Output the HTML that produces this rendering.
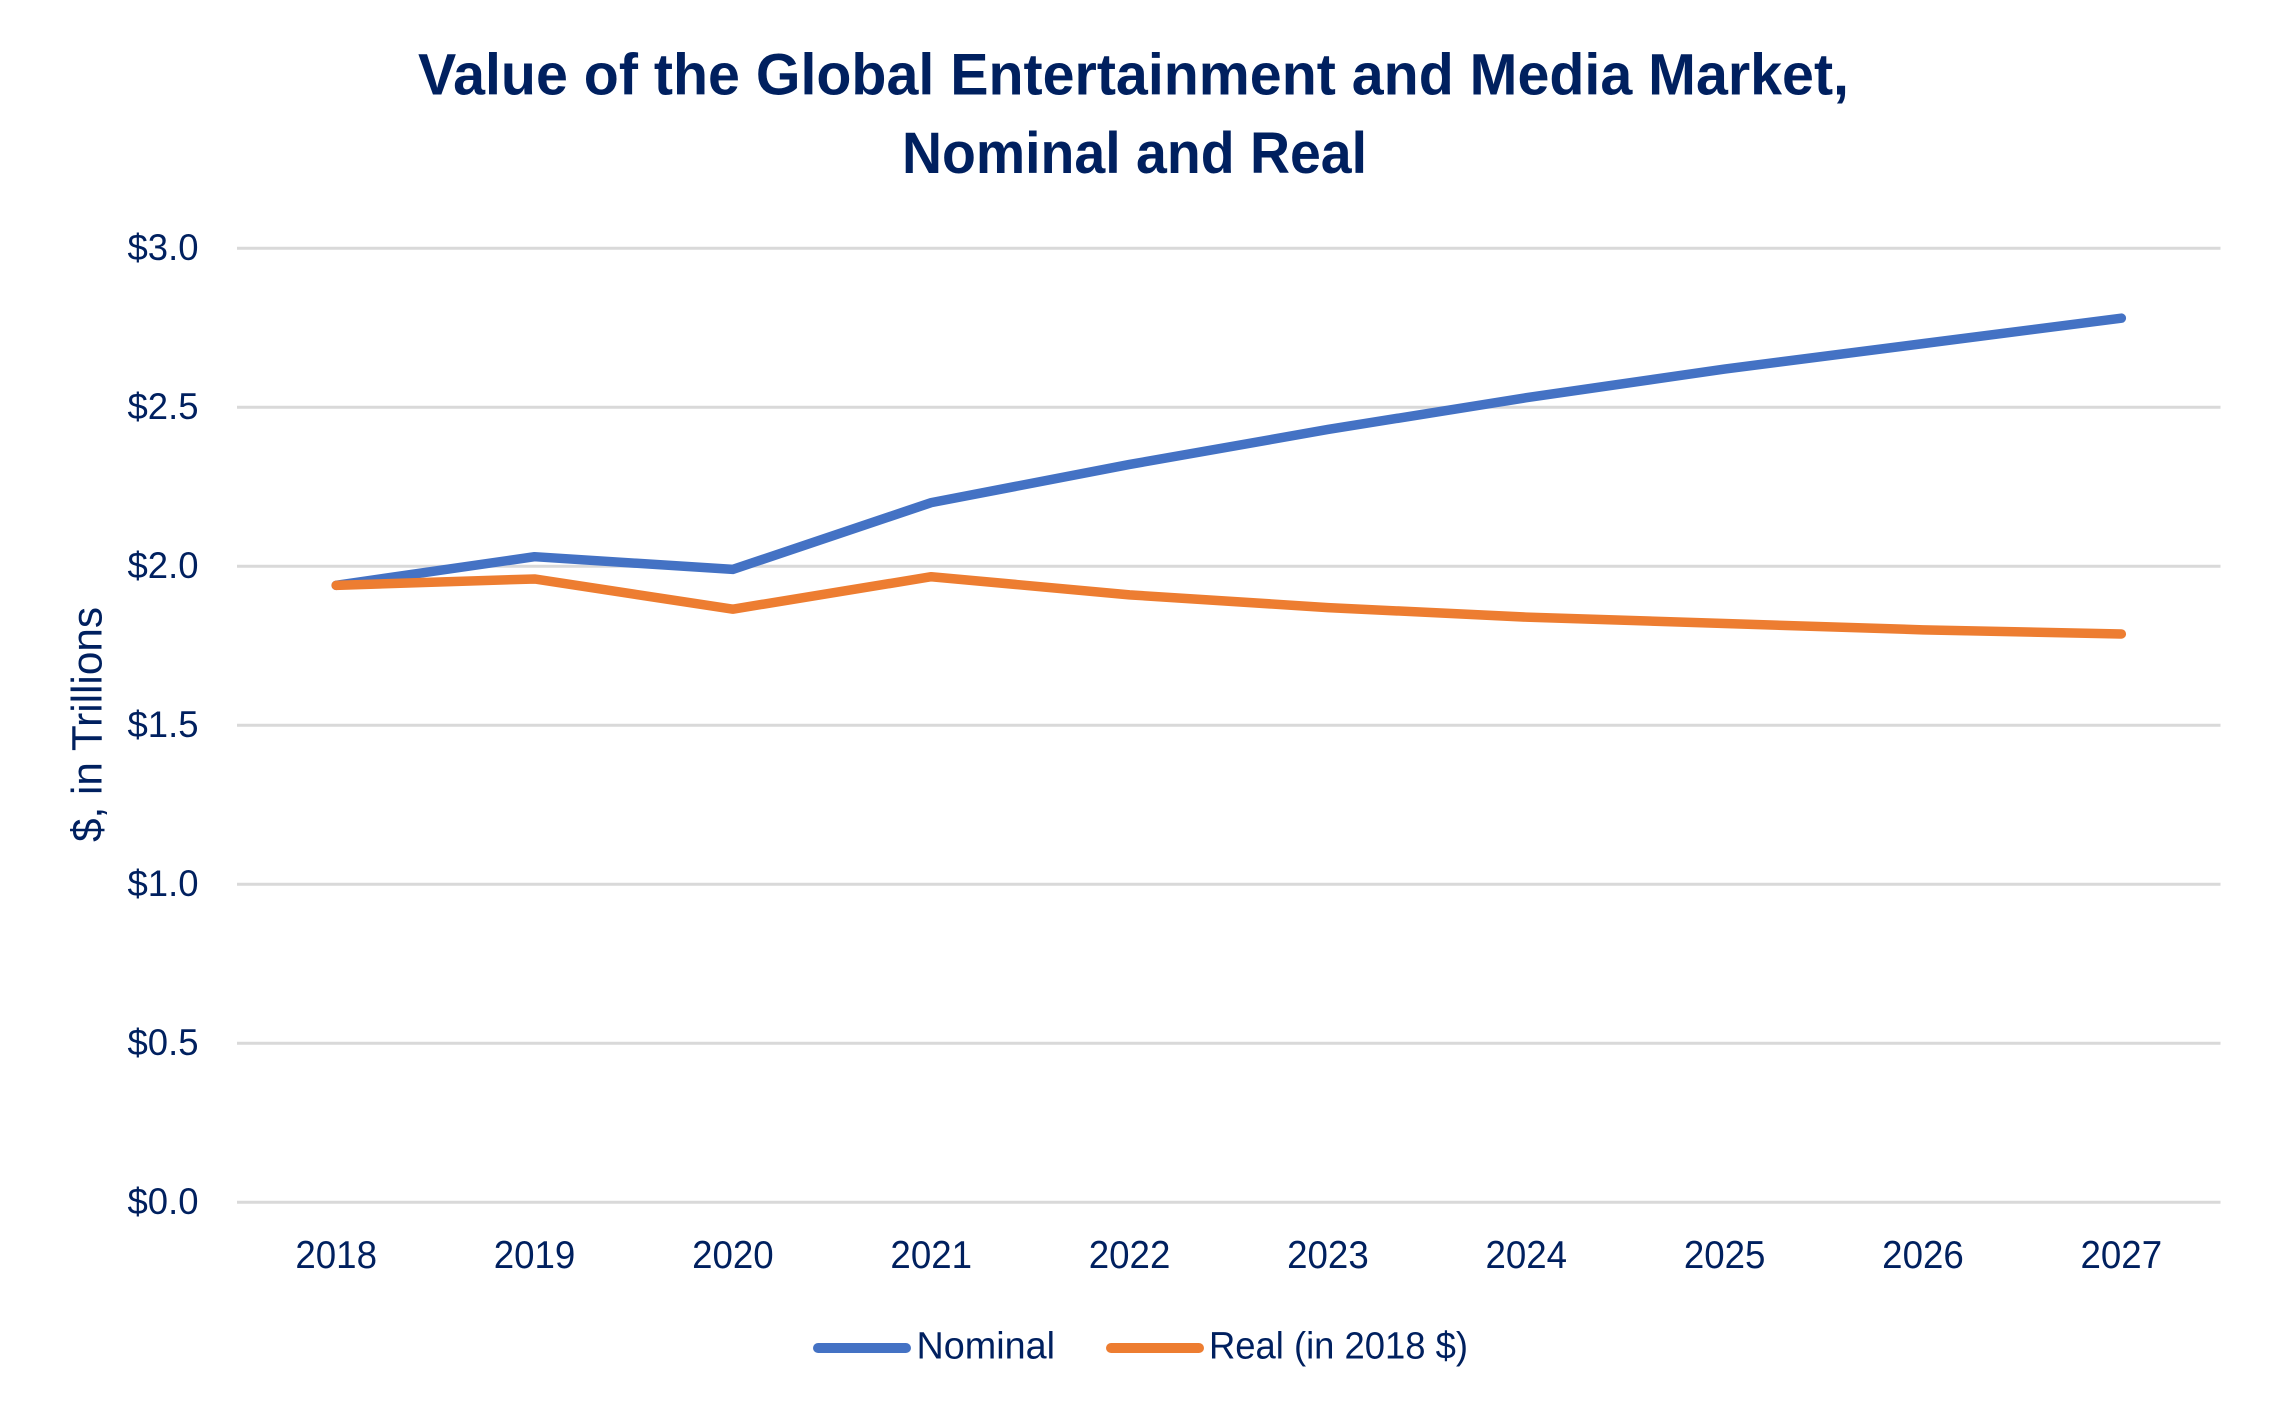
<!DOCTYPE html>
<html lang="en">
<head>
<meta charset="utf-8">
<title>Value of the Global Entertainment and Media Market, Nominal and Real</title>
<style>
  html, body { margin: 0; padding: 0; background: #ffffff; }
  svg { display: block; font-family: "Liberation Sans", sans-serif; }
  text { fill: #00205f; }
</style>
</head>
<body>
<svg id="chart" xmlns="http://www.w3.org/2000/svg" width="2271" height="1414" viewBox="0 0 2271 1414">
  <rect x="0" y="0" width="2271" height="1414" fill="#ffffff"/>
  <text x="418" y="94.5" font-size="58" font-weight="700" textLength="1431" lengthAdjust="spacingAndGlyphs">Value of the Global Entertainment and Media Market,</text>
  <text x="902" y="173" font-size="58" font-weight="700" textLength="465" lengthAdjust="spacingAndGlyphs">Nominal and Real</text>
  <text transform="translate(101.7 842) rotate(-90)" x="0" y="0" font-size="43" textLength="235" lengthAdjust="spacingAndGlyphs">$, in Trillions</text>
  <g id="grid"></g>
  <g id="y-labels"></g>
  <g id="x-labels"></g>
  <g id="series"></g>
  <g>
    <g>
      <line x1="818" y1="1348" x2="906" y2="1348" stroke="#4472c4" stroke-width="10" stroke-linecap="round"/>
      <text x="916.5" y="1358.7" font-size="38" textLength="138.5" lengthAdjust="spacingAndGlyphs">Nominal</text>
    </g>
    <g>
      <line x1="1111" y1="1348" x2="1199" y2="1348" stroke="#ed7d31" stroke-width="10" stroke-linecap="round"/>
      <text x="1209" y="1358.7" font-size="38" textLength="259" lengthAdjust="spacingAndGlyphs">Real (in 2018 $)</text>
    </g>
  </g>
</svg>
<script>
const categories = ["2018", "2019", "2020", "2021", "2022", "2023", "2024", "2025", "2026", "2027"];
const nominalValues = [1.94, 2.03, 1.99, 2.20, 2.32, 2.43, 2.53, 2.62, 2.70, 2.78];
const realValues = [1.94, 1.96, 1.865, 1.967, 1.91, 1.87, 1.84, 1.82, 1.80, 1.787];
const yTicks = [0, 0.5, 1.0, 1.5, 2.0, 2.5, 3.0];

const SVG_NS = "http://www.w3.org/2000/svg";
const plotLeft = 237;
const plotRight = 2220.5;
const plotTop = 248.2;
const plotBottom = 1202.3;
const yMax = 3;

function xScale(index) {
  const band = (plotRight - plotLeft) / categories.length;
  return plotLeft + band * (index + 0.5);
}
function yScale(value) {
  return plotBottom - (value / yMax) * (plotBottom - plotTop);
}

const gridGroup = document.getElementById("grid");
const yLabelGroup = document.getElementById("y-labels");
const xLabelGroup = document.getElementById("x-labels");
const seriesGroup = document.getElementById("series");

yTicks.forEach(function (tick) {
  const y = yScale(tick);
  const rule = document.createElementNS(SVG_NS, "line");
  
  
  rule.setAttribute("x1", plotLeft);
  rule.setAttribute("x2", plotRight);
  rule.setAttribute("y1", y);
  rule.setAttribute("y2", y);
  rule.setAttribute("stroke", "#d9d9d9");
  rule.setAttribute("stroke-width", "3");
  gridGroup.appendChild(rule);

  const label = document.createElementNS(SVG_NS, "text");
  
  
  label.setAttribute("x", 127.5);
  label.setAttribute("y", y + 11.8);
  label.setAttribute("font-size", "37.5");
  label.setAttribute("textLength", "71");
  label.setAttribute("lengthAdjust", "spacingAndGlyphs");
  label.textContent = "$" + tick.toFixed(1);
  yLabelGroup.appendChild(label);
});

categories.forEach(function (category, index) {
  const label = document.createElementNS(SVG_NS, "text");
  
  
  label.setAttribute("x", xScale(index) - 40.8);
  label.setAttribute("y", 1268);
  label.setAttribute("font-size", "38.5");
  label.setAttribute("textLength", "81.6");
  label.setAttribute("lengthAdjust", "spacingAndGlyphs");
  label.textContent = category;
  xLabelGroup.appendChild(label);
});

function drawSeries(values, color, name) {
  const points = values.map(function (value, index) {
    return xScale(index).toFixed(2) + "," + yScale(value).toFixed(2);
  }).join(" ");
  const line = document.createElementNS(SVG_NS, "polyline");
  
  
  line.setAttribute("points", points);
  line.setAttribute("fill", "none");
  line.setAttribute("stroke", color);
  line.setAttribute("stroke-width", "9.5");
  line.setAttribute("stroke-linecap", "round");
  line.setAttribute("stroke-linejoin", "round");
  seriesGroup.appendChild(line);
}

drawSeries(nominalValues, "#4472c4", "series-nominal-line");
drawSeries(realValues, "#ed7d31", "series-real-line");
</script>
</body>
</html>
